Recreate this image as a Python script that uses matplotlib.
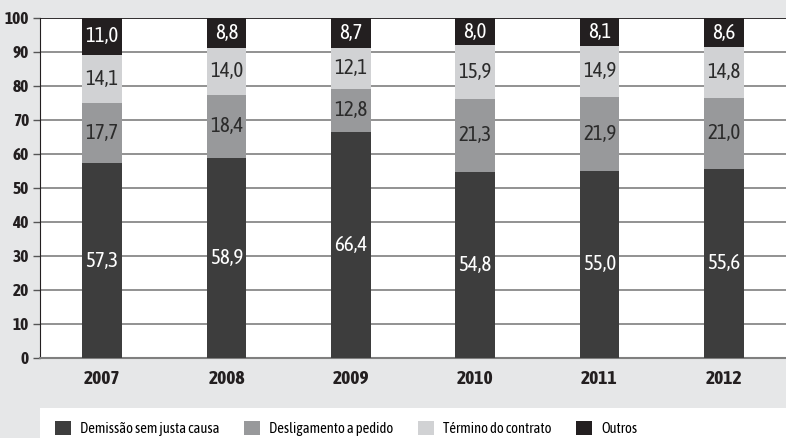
import numpy as np
import matplotlib.pyplot as plt
from matplotlib.patches import Rectangle

plt.rcParams['font.family'] = ['Asap Condensed', 'Archivo Narrow', 'DejaVu Sans']

# data (percent)
years = ['2007', '2008', '2009', '2010', '2011', '2012']
demissao = [57.3, 58.9, 66.4, 54.8, 55.0, 55.6]
desligamento = [17.7, 18.4, 12.8, 21.3, 21.9, 21.0]
termino = [14.1, 14.0, 12.1, 15.9, 14.9, 14.8]
outros = [11.0, 8.8, 8.7, 8.0, 8.1, 8.6]

series = [
    ('Demissão sem justa causa', demissao, '#3d3d3d', 'white'),
    ('Desligamento a pedido', desligamento, '#98999b', '#2b2b2b'),
    ('Término do contrato', termino, '#d1d2d4', '#2b2b2b'),
    ('Outros', outros, '#231f20', 'white'),
]

fig = plt.figure(figsize=(7.86, 4.38), dpi=100, facecolor='#e6e7e8')
ax = fig.add_axes([40 / 786, 80 / 438, 746 / 786, 340 / 438])
ax.set_facecolor('white')

x = np.arange(len(years))
bottom = np.zeros(len(years))
for name, vals, color, tcol in series:
    vals = np.array(vals)
    ax.bar(x, vals, width=0.32, bottom=bottom, color=color, zorder=3, label=name)
    for xi, b, v in zip(x, bottom, vals):
        ax.text(xi, b + v / 2, f'{v:.1f}'.replace('.', ','), ha='center', va='center',
                color=tcol, fontsize=15, zorder=4)
    bottom += vals

ax.set_xlim(-0.5, 5.5)
ax.set_ylim(0, 100)
ax.set_yticks(range(0, 101, 10))
ax.yaxis.grid(True, color='#7f7f7f', linewidth=1.2, zorder=0)
ax.set_xticks(x)
ax.set_xticklabels(years, fontsize=14, fontweight='bold', color='#231f20')
for lab in ax.get_yticklabels():
    lab.set_fontsize(12.5)
    lab.set_fontweight('bold')
    lab.set_color('#231f20')
ax.tick_params(axis='x', length=0, pad=9)
ax.tick_params(axis='y', length=5, width=1, color='#555555', pad=3)
for s in ['top', 'right']:
    ax.spines[s].set_visible(False)
ax.spines['left'].set_color('#231f20')
ax.spines['bottom'].set_color('#7f7f7f')
ax.spines['bottom'].set_linewidth(1.5)
ax.axhline(100, color='#231f20', linewidth=1.2, zorder=2)

# white legend strip at the bottom
fig.patches.append(Rectangle((40 / 786, 0), 1, 30 / 438, transform=fig.transFigure,
                             facecolor='white', edgecolor='none', zorder=0))
handles, labels = ax.get_legend_handles_labels()
leg = fig.legend(handles, labels, loc='lower left', bbox_to_anchor=(42 / 786, -0.025),
                 ncol=4, frameon=False, fontsize=10.5, handlelength=1.1, handleheight=1.1,
                 handletextpad=0.6, columnspacing=1.7)

fig.savefig('out.png', dpi=100, facecolor=fig.get_facecolor())
